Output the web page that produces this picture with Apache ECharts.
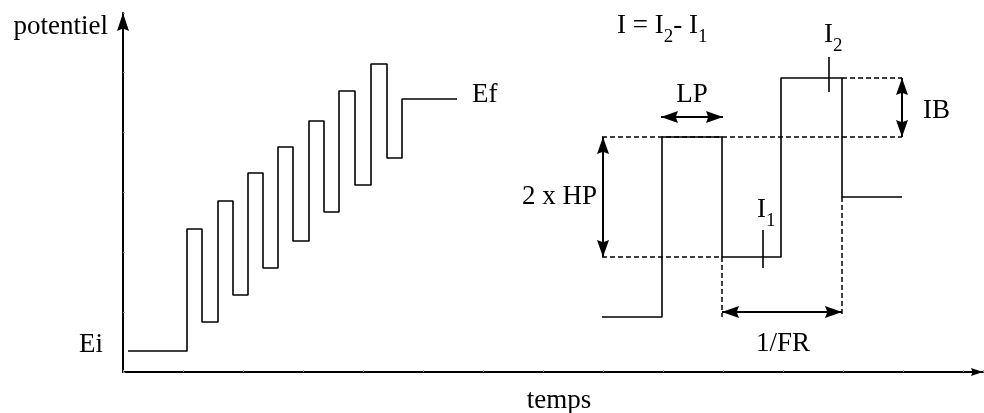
<!DOCTYPE html>
<html>
<head>
<meta charset="utf-8">
<script src="https://cdn.jsdelivr.net/npm/echarts@6/dist/echarts.min.js"></script>
<style>
  html, body { margin: 0; padding: 0; background: #fff; }
  #chart { width: 984px; height: 413px; }
</style>
</head>
<body>
<div id="chart"></div>
<script>
// staircase (square wave riding on a ramp), left part
const rampStart = 5
const rampEnd = 334
const eiLevel = 21
const stepTimes = [64, 79, 95, 110, 125, 140, 155, 170, 186, 201, 216, 232, 248, 264, 279]
const stepLevels = [143, 50, 171, 77, 199, 104, 225, 131, 251, 160, 281, 187, 308, 214, 273]

// zoomed pulse, right part
const pulseTimes = [479, 539, 599, 658, 719, 779]
const pulseLevels = [55, 235, 115, 294, 175]

// dashed guides
const guideLines = [
  [[479, 235], [779, 235]],
  [[479, 115], [599, 115]],
  [[719, 294], [779, 294]],
  [[599, 115], [599, 55]],
  [[719, 175], [719, 55]]
]
// double arrows: 2 x HP, IB, LP, 1/FR
const arrowSpans = [
  [[480, 235], [480, 115]],
  [[779, 294], [779, 235]],
  [[538, 255], [600, 255]],
  [[599, 60], [719, 60]]
]
// sampling marks I2, I1
const markerTicks = [
  [[706, 315], [706, 280]],
  [[640, 142], [640, 104]]
]

const labelTexts = ['Ei', 'Ef', 'I = I{s|2}- I{s|1}', 'I{s|2}', 'LP', 'IB', '2 x HP', 'I{s|1}', '1/FR']
const labelX = [-20, 349, 494, 701, 569, 800, 474, 634, 660]
const labelY = [29, 279, 348, 339, 279, 263, 177, 164, 30]
const labelAlign = ['right', 'left', 'left', 'left', 'center', 'left', 'right', 'left', 'center']

const font = 'Liberation Serif'
// filled head with a shallow notch; the leading move keeps the tip on the symbol centre
const head = 'path://M0 -30M0 0L10 30L0 26L-10 30Z'

function stairPoints() {
  const pts = [[rampStart, eiLevel]]
  let prev = eiLevel
  stepTimes.forEach((t, i) => {
    pts.push([t, prev])
    pts.push([t, stepLevels[i]])
    prev = stepLevels[i]
  })
  pts.push([rampEnd, prev])
  return pts
}

function pulsePoints() {
  const pts = []
  pulseLevels.forEach((lv, i) => {
    pts.push([pulseTimes[i], lv])
    pts.push([pulseTimes[i + 1], lv])
  })
  return pts
}

const chart = echarts.init(document.getElementById('chart'))

chart.setOption({
  animation: false,
  backgroundColor: '#fff',
  grid: { left: 123, right: 1, top: 13, bottom: 41, outerBoundsMode: 'none', containLabel: false },
  xAxis: {
    type: 'value',
    min: 0,
    max: 860,
    interval: 60,
    name: 'temps',
    nameLocation: 'middle',
    nameGap: 29,
    nameTextStyle: { fontFamily: font, fontSize: 27, color: '#000', verticalAlign: 'middle', padding: [0, 0, 0, 12] },
    axisLine: { lineStyle: { color: '#000', width: 2 }, symbol: ['none', head], symbolSize: [11, 24] },
    axisTick: { show: true, inside: true, length: 2, lineStyle: { color: '#999' } },
    axisLabel: { show: false },
    splitLine: { show: false }
  },
  yAxis: {
    type: 'value',
    min: 0,
    max: 359,
    interval: 60,
    name: 'potentiel',
    nameLocation: 'end',
    nameGap: -14,
    nameTextStyle: { fontFamily: font, fontSize: 27, color: '#000', align: 'right', verticalAlign: 'middle', padding: [0, 15, 0, 0] },
    axisLine: { lineStyle: { color: '#000', width: 2 }, symbol: ['none', head], symbolSize: [12, 42] },
    axisTick: { show: true, inside: true, length: 2, lineStyle: { color: '#999' } },
    axisLabel: { show: false },
    splitLine: { show: false }
  },
  series: [
    {
      type: 'line',
      data: stairPoints(),
      showSymbol: false,
      lineStyle: { color: '#000', width: 1.6 }
    },
    {
      type: 'line',
      data: pulsePoints(),
      showSymbol: false,
      lineStyle: { color: '#000', width: 1.6 }
    },
    {
      type: 'lines',
      coordinateSystem: 'cartesian2d',
      data: guideLines.map(c => ({ coords: c })),
      lineStyle: { color: '#000', width: 1.5, type: [5, 3], opacity: 1 }
    },
    {
      type: 'lines',
      coordinateSystem: 'cartesian2d',
      data: markerTicks.map(c => ({ coords: c })),
      lineStyle: { color: '#000', width: 1.6, opacity: 1 }
    },
    {
      type: 'lines',
      coordinateSystem: 'cartesian2d',
      data: arrowSpans.map(c => ({ coords: c })),
      symbol: [head, head],
      symbolSize: [[12, 34], [12, 34]],
      lineStyle: { color: '#000', width: 2, opacity: 1 }
    },
    {
      type: 'scatter',
      symbolSize: 0,
      clip: false,
      silent: true,
      itemStyle: { opacity: 1 },
      data: labelTexts.map((t, i) => ({
        value: [labelX[i], labelY[i]],
        name: t,
        label: { align: labelAlign[i] }
      })),
      label: {
        show: true,
        position: 'inside',
        offset: [0, 2],
        verticalAlign: 'middle',
        formatter: p => p.name,
        fontFamily: font,
        fontSize: 27,
        lineHeight: 30,
        color: '#000',
        opacity: 1,
        rich: {
          s: { fontFamily: font, fontSize: 19, lineHeight: 30, color: '#000', padding: [22, 0, 0, 0] }
        }
      }
    }
  ]
})
</script>
</body>
</html>
